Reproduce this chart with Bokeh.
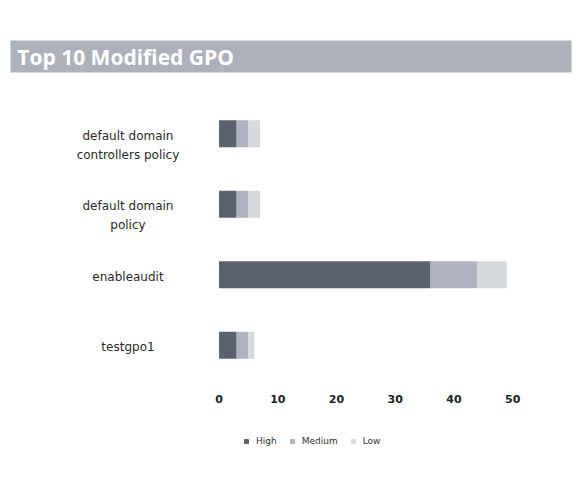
from bokeh.plotting import figure
from bokeh.layouts import column
from bokeh.models import ColumnDataSource, FixedTicker, Legend
from bokeh.core.properties import value
from bokeh.embed import file_html
from bokeh.resources import INLINE

title = "Top 10 Modified GPO"
categories = ["default domain controllers policy", "default domain policy", "enableaudit", "testgpo1"]
cat_labels = ["default domain\ncontrollers policy", "default domain\npolicy", "enableaudit", "testgpo1"]
high = [3, 3, 36, 3]
medium = [2, 2, 8, 2]
low = [2, 2, 5, 1]
series = ["High", "Medium", "Low"]
colors = ["#5c6170", "#aeb3bf", "#d5d9dc"]
x_ticks = [0, 10, 20, 30, 40, 50]
FONT = "DejaVu Sans"

# header band
h = figure(width=581, height=80, x_range=(0, 1), y_range=(0, 1), output_backend="svg",
           toolbar_location=None, min_border_left=8, min_border_right=6,
           min_border_top=40, min_border_bottom=8)
h.axis.visible = False
h.grid.visible = False
h.outline_line_color = None
h.background_fill_color = "#adb1bc"
h.text(x=[0.012], y=[0.5], text=[title], text_color="white", text_font=value("Open Sans"),
       text_font_size="21px", text_font_style="bold", text_baseline="middle")

src = ColumnDataSource(dict(cat=categories, label=cat_labels, High=high, Medium=medium, Low=low))

p = figure(width=581, height=340, y_range=list(reversed(categories)), x_range=(-35.5, 60),
           output_backend="svg", toolbar_location=None,
           min_border_left=10, min_border_right=10, min_border_top=18, min_border_bottom=40)

r = p.hbar_stack(series, y="cat", height=0.38, source=src, color=colors, line_color=None)

p.text(x=-15.5, y="cat", text="label", source=src, text_align="center", text_baseline="top",
       y_offset=-5, text_font=value(FONT), text_font_size="12px", text_color="#2a2a2a",
       text_line_height=1.35)

p.yaxis.visible = False
p.xaxis.ticker = FixedTicker(ticks=x_ticks)
p.xaxis.axis_line_color = None
p.xaxis.major_tick_line_color = None
p.xaxis.minor_tick_line_color = None
p.xaxis.major_label_text_font = FONT
p.xaxis.major_label_text_font_size = "11px"
p.xaxis.major_label_text_font_style = "bold"
p.xaxis.major_label_text_color = "#222222"
p.xaxis.major_label_standoff = 8
p.xgrid.grid_line_color = None
p.ygrid.grid_line_color = None
p.outline_line_color = None
p.y_range.range_padding = 0

# legend strip (proxy renderers, hidden; legend shows their swatches)
lf = figure(width=581, height=78, x_range=(0, 1), y_range=(0, 1), output_backend="svg",
            toolbar_location=None, min_border=0)
lf.axis.visible = False
lf.grid.visible = False
lf.outline_line_color = None
items = []
for s, c in zip(series, colors):
    rr = lf.scatter(x=[0.5], y=[0.5], marker="square", size=9, color=c, visible=False)
    items.append((s, [rr]))
legend = Legend(items=items, orientation="horizontal", location=(231, 52),
                label_text_font=FONT, label_text_font_size="9px", label_text_color="#333333",
                glyph_width=10, glyph_height=10, border_line_color=None, spacing=10,
                background_fill_alpha=0, inactive_fill_alpha=0)
lf.add_layout(legend)

open("out.html", "w").write(file_html(column(h, p, lf, spacing=0), INLINE))
